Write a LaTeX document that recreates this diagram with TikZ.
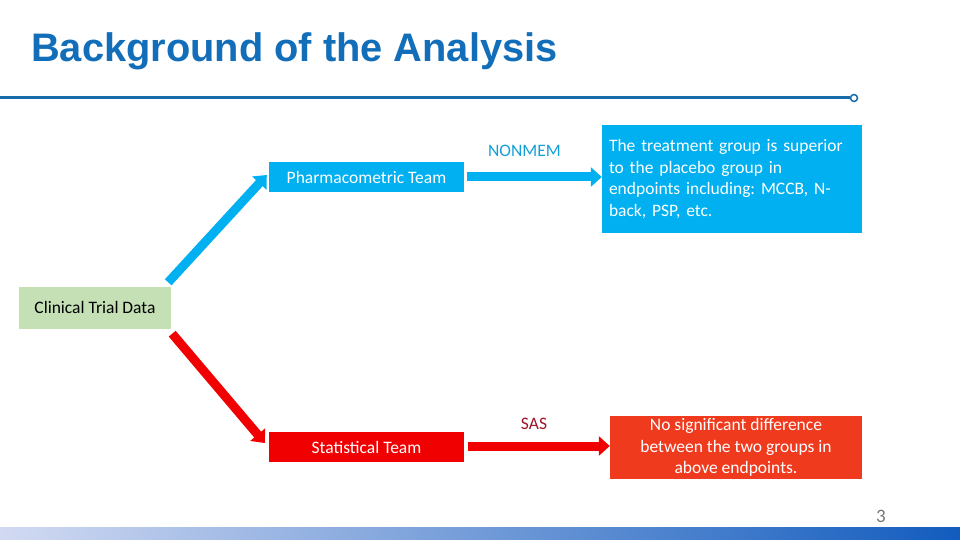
\documentclass[tikz,border=0pt]{standalone}
\usepackage{fontspec}
\setmainfont{Carlito}
\newfontfamily\titlefont{Liberation Sans}
\usetikzlibrary{arrows.meta}
\frenchspacing
\definecolor{titleblue}{RGB}{18,110,185}
\definecolor{rulecol}{RGB}{25,108,170}
\definecolor{skyblue}{RGB}{0,176,240}
\definecolor{nonmemcol}{RGB}{20,160,215}
\definecolor{redcol}{RGB}{240,0,0}
\definecolor{resred}{RGB}{240,58,30}
\definecolor{sascol}{RGB}{160,20,40}
\definecolor{greenbox}{RGB}{197,224,180}
\definecolor{barleft}{RGB}{210,218,242}
\definecolor{barright}{RGB}{18,92,190}
\definecolor{pagegray}{RGB}{120,120,120}
\tikzset{
  bodytext/.style={font=\fontsize{17.5}{21.5}\selectfont},
  boxbase/.style={bodytext, draw=none, inner sep=0pt, align=center},
  teambox/.style={boxbase, minimum width=195pt, minimum height=30pt, text=white},
  blockarrow/.style={line width=9pt, -{Triangle[width=19pt,length=11pt]}},
}
\begin{document}
\begin{tikzpicture}[x=1pt,y=-1pt]
\useasboundingbox (0,0) rectangle (960,540);
\fill[white] (0,0) rectangle (960,540);

% title and rule
\node[anchor=base west, inner sep=0pt, text=titleblue,
      font=\titlefont\bfseries\fontsize{39.8}{44}\selectfont] (title) at (31,62) {Background of the Analysis};
\coordinate (rulestart) at (0,98);
\node[circle, draw=rulecol, fill=white, line width=1.5pt, minimum size=7pt, inner sep=0pt] (ruleend) at (854,98) {};
\draw[rulecol, line width=3pt] (rulestart) -- (ruleend.west);

% boxes
\node[boxbase, fill=greenbox, text=black, minimum width=152pt, minimum height=42pt] (clin) at (95,307.5) {Clinical Trial Data};
\node[teambox, fill=skyblue] (pm) at (366.5,177) {Pharmacometric Team};
\node[teambox, fill=redcol] (st) at (366.5,447) {Statistical Team};
\node[boxbase, fill=skyblue, text=white, minimum width=260pt, minimum height=108pt,
      text width=246pt, align=left] (res1) at (732,179)
  {The treatment group is superior\\to the placebo group in\\endpoints including: MCCB, N-\\back, PSP, etc.};
\node[boxbase, fill=resred, text=white, minimum width=252pt, minimum height=63pt] (res2) at (736,447.5)
  {No significant difference\\between the two groups in\\above endpoints.};

% labels
\node[bodytext, text=nonmemcol, inner sep=0pt] (nonmem) at (524.5,151) {NONMEM};
\node[bodytext, text=sascol, inner sep=0pt] (sas) at (534,424) {SAS};

% arrows
\draw[blockarrow, skyblue] ([xshift=-3pt,yshift=4pt]clin.north east) -- ([xshift=-2pt,yshift=2pt]pm.west);
\draw[blockarrow, redcol] ([xshift=1pt,yshift=-5pt]clin.south east) -- ([xshift=-4pt,yshift=4pt]st.west);
\draw[blockarrow, skyblue] ([xshift=3pt]pm.east) -- (pm.east -| res1.west);
\draw[blockarrow, redcol] ([xshift=4pt,yshift=1pt]st.east) -- ([yshift=1pt]st.east -| res2.west);

% page number and bottom bar
\node[text=pagegray, font=\fontsize{19}{21}\selectfont, inner sep=0pt] (pg) at (881,516) {3};
\shade[left color=barleft, right color=barright] (0,527) rectangle (960,540);
\end{tikzpicture}
\end{document}
